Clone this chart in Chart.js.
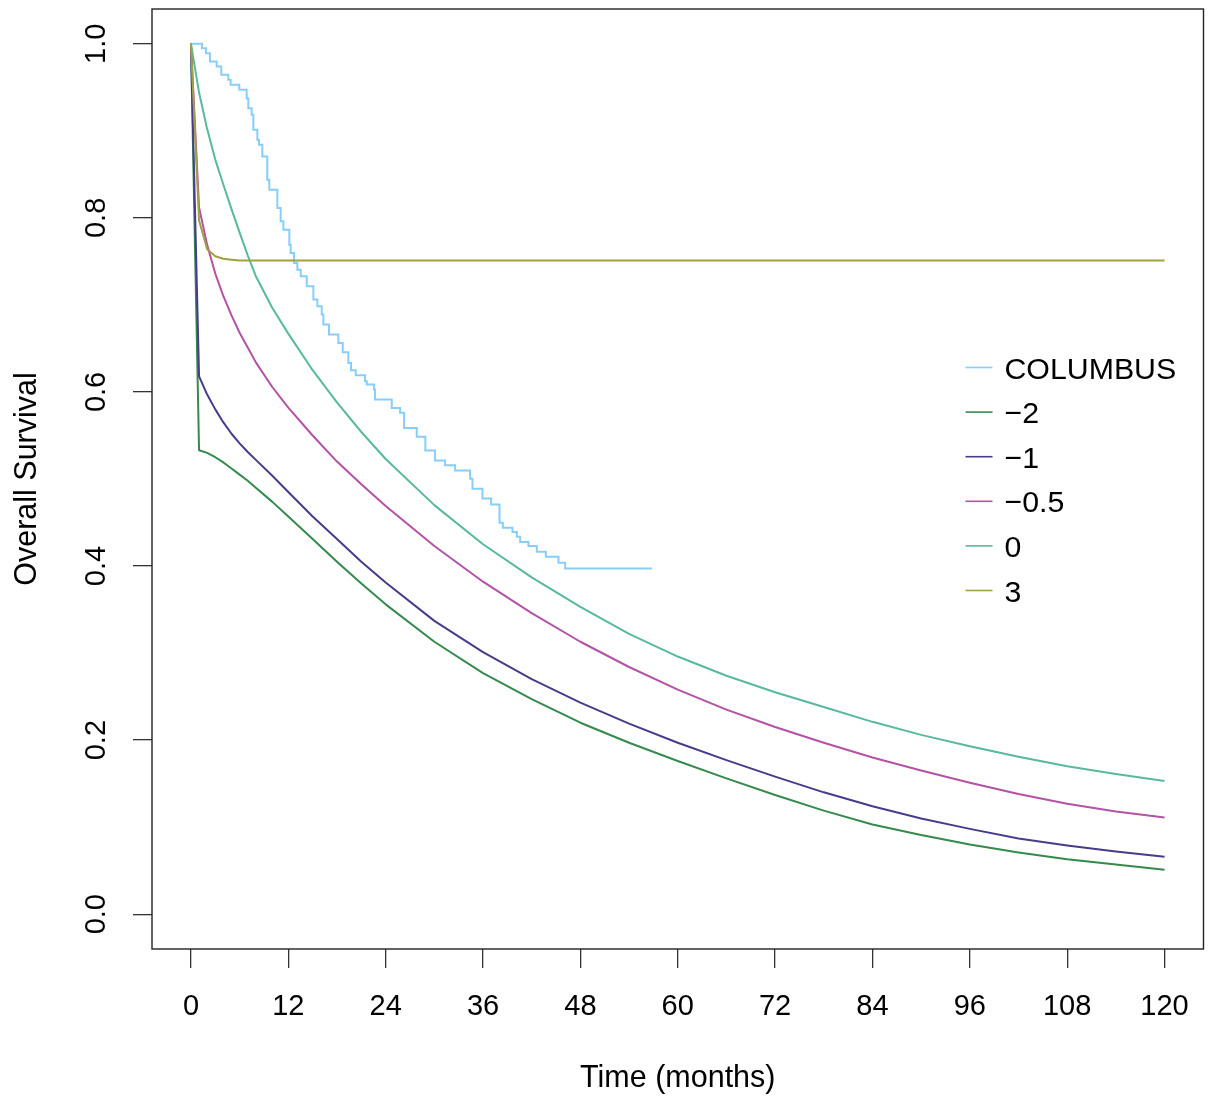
<!DOCTYPE html>
<html>
<head>
<meta charset="utf-8">
<script src="https://cdn.jsdelivr.net/npm/chart.js@4.4.1/dist/chart.umd.min.js"></script>
<style>
  html, body { margin: 0; padding: 0; background: #fff; }
  #wrap { width: 1211px; height: 1097px; }
</style>
</head>
<body>
<div id="wrap"><canvas id="survChart" width="1211" height="1097"></canvas></div>
<script>
// Axis ticks
const xTicks = [0, 12, 24, 36, 48, 60, 72, 84, 96, 108, 120];
const yTicks = [0, 0.2, 0.4, 0.6, 0.8, 1.0];
const yTickLabels = ['0.0', '0.2', '0.4', '0.6', '0.8', '1.0'];

// Series names + colours (legend order)
const seriesLabels = ['COLUMBUS', '\u22122', '\u22121', '\u22120.5', '0', '3'];
const seriesColors = ['#87CEFA', '#358A4E', '#473C8B', '#B452A6', '#58B99D', '#A0A045'];

// COLUMBUS Kaplan-Meier steps (event time in months, survival after the step)
const kmTime = [0, 1.36, 1.85, 2.34, 3.17, 3.74, 4.60, 4.89, 5.96, 6.87, 7.07, 7.48, 7.69, 8.18, 8.39, 8.80,
  9.41, 9.66, 10.65, 11.06, 11.39, 12.13, 12.29, 12.70, 13.11, 13.53, 14.27, 15.09, 15.58, 16.12, 16.32,
  17.02, 18.17, 18.71, 19.40, 19.73, 20.31, 21.46, 21.67, 22.57, 22.69, 24.75, 25.78, 26.27, 27.83, 28.89,
  30.09, 31.33, 32.56, 34.41, 34.70, 35.93, 37.00, 38.03, 38.44, 39.63, 40.17, 40.58, 41.60, 42.63, 43.74,
  45.30, 46.13, 56.82];
const kmSurv = [1.0, .9950, .9893, .9797, .9740, .9644, .9587, .9529, .9472, .9376, .9261, .9185, .9013, .8898, .8840, .8706,
  .8439, .8324, .8113, .7960, .7865, .7692, .7597, .7482, .7405, .7329, .7214, .7061, .6984, .6889, .6774,
  .6659, .6563, .6456, .6334, .6250, .6192, .6123, .6085, .6028, .5913, .5817, .5760, .5587, .5484, .5327,
  .5212, .5159, .5098, .5002, .4887, .4776, .4707, .4497, .4440, .4390, .4336, .4275, .4229, .4164, .4106,
  .4037, .3972, .3972];

// Extrapolated model curves
const modelTime = [0, 1, 2, 3, 4, 5, 6, 7, 8, 10, 12, 15, 18, 21, 24, 30, 36, 42, 48, 54, 60, 66, 72, 78, 84, 90, 96, 102, 108, 114, 120];
const survNeg2 = [1.0, .533, .530, .525, .519, .512, .505, .498, .490, .474, .457, .431, .405, .380, .356, .313, .277, .247, .220, .197, .176, .156, .137, .119, .103, .091, .080, .071, .063, .057, .051];
const survNeg1 = [1.0, .618, .597, .580, .565, .552, .541, .531, .522, .504, .485, .457, .431, .405, .381, .337, .301, .270, .243, .219, .197, .177, .158, .140, .124, .110, .098, .087, .079, .072, .066];
const survNeg05 = [1.0, .812, .769, .736, .710, .688, .668, .651, .634, .606, .582, .550, .520, .494, .469, .423, .382, .346, .313, .284, .258, .235, .215, .197, .180, .165, .151, .138, .127, .118, .111];
const surv0 = [1.0, .944, .902, .867, .838, .810, .783, .757, .733, .697, .667, .625, .588, .554, .523, .470, .425, .387, .353, .322, .296, .274, .255, .238, .221, .206, .193, .181, .170, .161, .153];
const surv3 = [1.0, .797, .764, .756, .753, .752, .751, .751, .751, .751, .751, .751, .751, .751, .751, .751, .751, .751, .751, .751, .751, .751, .751, .751, .751, .751, .751, .751, .751, .751, .751];

const FONT = "'Liberation Sans', Arial, Helvetica, sans-serif";
Chart.defaults.font.family = FONT;
Chart.defaults.font.size = 29;
Chart.defaults.color = '#000';

const toPoints = (xs, ys) => xs.map((x, i) => ({ x: x, y: ys[i] }));

const modelSeries = [survNeg2, survNeg1, survNeg05, surv0, surv3];
const datasets = [{
  label: seriesLabels[0],
  data: toPoints(kmTime, kmSurv),
  borderColor: seriesColors[0],
  borderWidth: 2,
  stepped: 'before',
  pointRadius: 0,
  order: 5
}];
modelSeries.forEach((ys, i) => {
  datasets.push({
    label: seriesLabels[i + 1],
    data: toPoints(modelTime, ys),
    borderColor: seriesColors[i + 1],
    borderWidth: 2,
    borderJoinStyle: 'round',
    tension: 0,
    pointRadius: 0,
    order: 4 - i
  });
});

// box round the plot region
const frameBox = {
  id: 'frameBox',
  afterDatasetsDraw(chart) {
    const { ctx, chartArea: a } = chart;
    ctx.save();
    ctx.strokeStyle = '#222';
    ctx.lineWidth = 1.4;
    ctx.strokeRect(a.left, a.top, a.right - a.left, a.bottom - a.top);
    ctx.restore();
  }
};

// rotated y tick labels, like R's default las=0
const yTickText = {
  id: 'yTickText',
  afterDraw(chart) {
    const { ctx } = chart;
    const sc = chart.scales.y;
    ctx.save();
    ctx.font = '29px ' + FONT;
    ctx.fillStyle = '#000';
    ctx.textAlign = 'center';
    ctx.textBaseline = 'middle';
    yTicks.forEach((v, i) => {
      ctx.save();
      ctx.translate(sc.right - 55, sc.getPixelForValue(v));
      ctx.rotate(-Math.PI / 2);
      ctx.fillText(yTickLabels[i], 0, 0);
      ctx.restore();
    });
    ctx.restore();
  }
};

// borderless legend inside the plot
const sideLegend = {
  id: 'sideLegend',
  afterDraw(chart) {
    const { ctx, chartArea: a } = chart;
    const x0 = a.right - 238;
    const y0 = 367.5;
    ctx.save();
    ctx.font = '30.3px ' + FONT;
    ctx.textAlign = 'left';
    ctx.textBaseline = 'alphabetic';
    chart.data.datasets.forEach((ds, i) => {
      const yy = y0 + i * 44.6;
      ctx.strokeStyle = ds.borderColor;
      ctx.lineWidth = 1.6;
      ctx.beginPath();
      ctx.moveTo(x0, yy);
      ctx.lineTo(x0 + 27, yy);
      ctx.stroke();
      ctx.fillStyle = '#000';
      ctx.fillText(ds.label, x0 + 39, yy + 11);
    });
    ctx.restore();
  }
};

const ctx = document.getElementById('survChart').getContext('2d');
const survChart = new Chart(ctx, {
  type: 'line',
  data: { datasets: datasets },
  options: {
    responsive: false,
    animation: false,
    layout: { padding: { left: 0, right: 7, top: 9, bottom: 0 } },
    plugins: {
      legend: { display: false },
      tooltip: { enabled: false }
    },
    scales: {
      x: {
        type: 'linear',
        min: -4.8,
        max: 124.8,
        afterBuildTicks: (s) => { s.ticks = xTicks.map(v => ({ value: v })); },
        afterFit: (s) => { s.height = 148; },
        border: { display: false },
        grid: { drawOnChartArea: false, drawTicks: true, tickLength: 19, color: '#333', lineWidth: 1.3 },
        ticks: { padding: 22, maxRotation: 0, autoSkip: false, color: '#000' },
        title: { display: true, text: 'Time (months)', color: '#000', font: { size: 30.5 }, padding: { top: 0, bottom: 0 } }
      },
      y: {
        type: 'linear',
        min: -0.04,
        max: 1.04,
        afterBuildTicks: (s) => { s.ticks = yTicks.map(v => ({ value: v })); },
        afterFit: (s) => { s.width = 152; },
        border: { display: false },
        grid: { drawOnChartArea: false, drawTicks: true, tickLength: 19, color: '#333', lineWidth: 1.3 },
        ticks: { display: false },
        title: { display: true, text: 'Overall Survival', color: '#000', font: { size: 30.5 }, padding: { top: 9, bottom: 0 } }
      }
    }
  },
  plugins: [frameBox, yTickText, sideLegend]
});
</script>
</body>
</html>
